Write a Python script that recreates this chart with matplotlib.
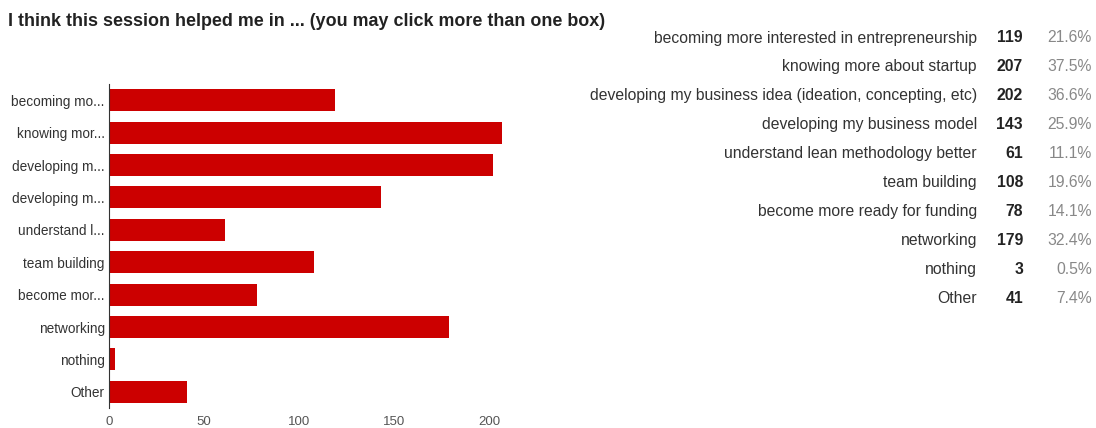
import matplotlib.pyplot as plt

plt.rcParams['font.family'] = ['Liberation Sans', 'DejaVu Sans']

labels = ["becoming more interested in entrepreneurship", "knowing more about startup",
          "developing my business idea (ideation, concepting, etc)", "developing my business model",
          "understand lean methodology better", "team building", "become more ready for funding",
          "networking", "nothing", "Other"]
short_labels = ["becoming mo...", "knowing mor...", "developing m...", "developing m...",
                "understand l...", "team building", "become mor...", "networking", "nothing", "Other"]
counts = [119, 207, 202, 143, 61, 108, 78, 179, 3, 41]
percents = ["21.6%", "37.5%", "36.6%", "25.9%", "11.1%", "19.6%", "14.1%", "32.4%", "0.5%", "7.4%"]

fig = plt.figure(figsize=(10.96, 4.28), dpi=100)
fig.text(8 / 1096, 1 - 21 / 428, "I think this session helped me in ... (you may click more than one box)",
         fontsize=12.9, fontweight='bold', color='#222222', va='center')

ax = fig.add_axes([109 / 1096, 1 - 408 / 428, 399 / 1096, 324 / 428])
ypos = list(range(len(counts)))
ax.barh(ypos, counts, height=0.68, color='#cc0000')
ax.set_ylim(len(counts) - 0.5, -0.5)
ax.set_xlim(0, 210)
ax.set_yticks(ypos)
ax.set_yticklabels(short_labels, fontsize=9.8, color='#333333')
ax.set_xticks([0, 50, 100, 150, 200])
ax.tick_params(axis='x', labelsize=9.5, labelcolor='#555555', length=0, pad=6)
ax.tick_params(axis='y', length=0, pad=3)
for s in ['top', 'right', 'bottom']:
    ax.spines[s].set_visible(False)
ax.spines['left'].set_color('#333333')

# summary table on the right
for i in range(len(labels)):
    y = 1 - (38 + i * 28.9) / 428
    fig.text(977 / 1096, y, labels[i], ha='right', va='center', fontsize=11.3, color='#333333')
    fig.text(1023 / 1096, y, str(counts[i]), ha='right', va='center', fontsize=11.3,
             fontweight='bold', color='#222222')
    fig.text(1092 / 1096, y, percents[i], ha='right', va='center', fontsize=11.3, color='#888888')

fig.savefig("out.png", dpi=100)
plt.close()
